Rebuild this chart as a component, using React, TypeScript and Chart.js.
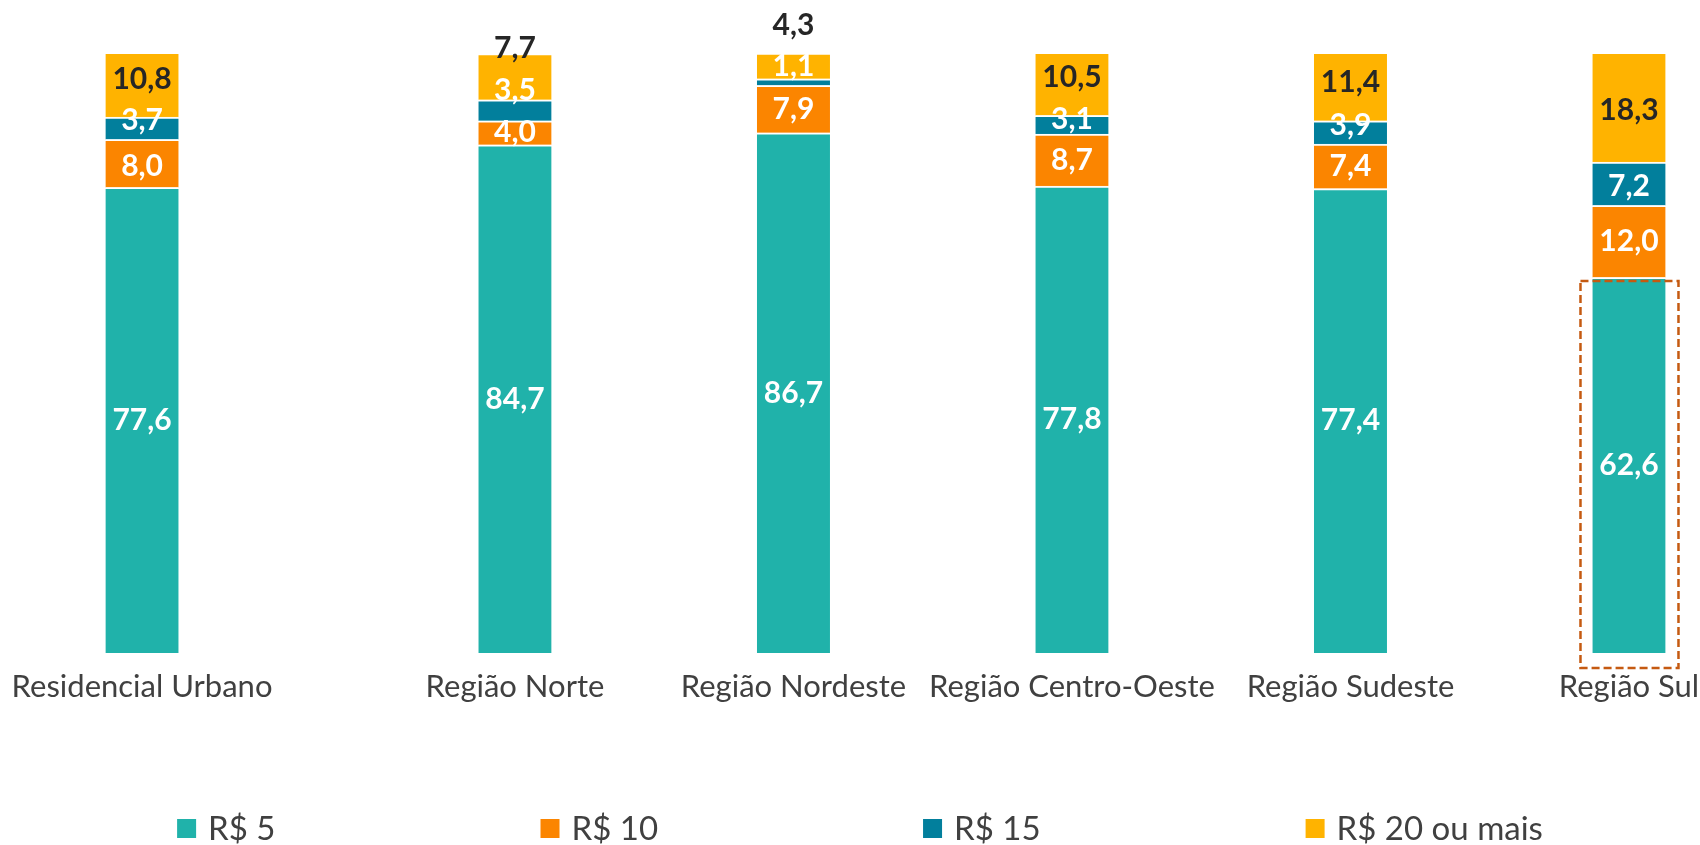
import React, { useEffect, useLayoutEffect, useRef } from 'react';
import { Chart, registerables, CategoryScale } from 'chart.js';

// ---------------- data ----------------
const categories = [
  'Residencial Urbano',
  'Região Norte',
  'Região Nordeste',
  'Região Centro-Oeste',
  'Região Sudeste',
  'Região Sul',
];
const seriesNames = ['R$ 5', 'R$ 10', 'R$ 15', 'R$ 20 ou mais'];
const valuesR5 = [77.6, 84.7, 86.7, 77.8, 77.4, 62.6];
const valuesR10 = [8.0, 4.0, 7.9, 8.7, 7.4, 12.0];
const valuesR15 = [3.7, 3.5, 1.1, 3.1, 3.9, 7.2];
const valuesR20 = [10.8, 7.7, 4.3, 10.5, 11.4, 18.3];
const highlightedCategory = 'Região Sul';

// ---------------- styles ----------------
const seriesColors = ['#20B2AA', '#FB8500', '#027F9C', '#FFB300'];
const labelColors = ['#FFFFFF', '#FFFFFF', '#FFFFFF', '#262626'];
const FONT = "Lato, 'DejaVu Sans', sans-serif";
const TEXT = '#404040';
const WIDTH = 1700;
const HEIGHT = 845;

// vertical nudges (px) for value labels that were moved in the original, keyed "dataset-index"
const labelNudges: Record<string, number> = {
  '2-0': -8, '3-0': -5,
  '2-1': -20, '3-1': -28,
  '2-2': -16, '3-2': -41,
  '2-3': -5, '3-3': -7,
  '2-4': -7, '3-4': -4,
  '2-5': 3, '3-5': 3,
  '1-0': 3,
};

// Category scale whose first gap is wider than the others (layout only)
class GapCategoryScale extends (CategoryScale as any) {
  static id = 'gapCategory';
  getPixelForValue(value: any) {
    let v = value;
    if (typeof v !== 'number') v = (this as any).parse(v);
    if (v === null || v === undefined || isNaN(v)) return NaN;
    const o: any = (this as any).options;
    const lead = o.leadPad ?? 0.5;
    const gap = o.firstGap ?? 1;
    const trail = o.trailPad ?? 0.5;
    const n = (this as any).getLabels().length;
    const pos = lead + (v >= 1 ? gap + (v - 1) : v * gap);
    const total = lead + gap + Math.max(n - 2, 0) + trail;
    return (this as any).getPixelForDecimal(pos / total);
  }
}

Chart.register(...registerables, GapCategoryScale as any);

const fmt = (v: number) => v.toFixed(1).replace('.', ',');

const valueLabels = {
  id: 'valueLabels',
  afterDatasetsDraw(chart: any) {
    const ctx = chart.ctx;
    ctx.save();
    ctx.font = `bold 30px ${FONT}`;
    ctx.textAlign = 'center';
    ctx.textBaseline = 'middle';
    chart.data.datasets.forEach((ds: any, di: number) => {
      const meta = chart.getDatasetMeta(di);
      meta.data.forEach((el: any, i: number) => {
        const p = el.getProps(['x', 'y', 'base'], true);
        const y = (p.y + p.base) / 2 + (labelNudges[`${di}-${i}`] || 0);
        ctx.fillStyle = labelColors[di];
        ctx.fillText(fmt(ds.data[i]), p.x, y);
      });
    });
    ctx.restore();
  },
};

const highlightBox = {
  id: 'highlightBox',
  afterDatasetsDraw(chart: any) {
    const idx = categories.indexOf(highlightedCategory);
    const el: any = chart.getDatasetMeta(0).data[idx];
    if (!el) return;
    const p = el.getProps(['x', 'y', 'base', 'width'], true);
    const ctx = chart.ctx;
    ctx.save();
    ctx.strokeStyle = '#C55A11';
    ctx.lineWidth = 2.5;
    ctx.setLineDash([8, 4]);
    const left = p.x - p.width / 2 - 12;
    const right = p.x + p.width / 2 + 13;
    const top = p.y + 3.5;
    const bottom = p.base + 15;
    ctx.strokeRect(left, top, right - left, bottom - top);
    ctx.restore();
  },
};

const bottomLegend = {
  id: 'bottomLegend',
  afterDraw(chart: any) {
    const ctx = chart.ctx;
    const fontSize = 33;
    const box = 19;
    const boxGap = 12;
    const itemGap = 265;
    ctx.save();
    ctx.font = `${fontSize}px ${FONT}`;
    ctx.textBaseline = 'middle';
    ctx.textAlign = 'left';
    const items = chart.data.datasets.map((ds: any) => {
      const tw = ctx.measureText(ds.label).width;
      return { text: ds.label, color: ds.backgroundColor, w: box + boxGap + tw };
    });
    const total = items.reduce((s: number, it: any) => s + it.w, 0) + itemGap * (items.length - 1);
    let x = chart.width / 2 - total / 2 + 10;
    const cy = chart.height - 16.5;
    items.forEach((it: any) => {
      ctx.fillStyle = it.color;
      ctx.fillRect(x, cy - box / 2, box, box);
      ctx.fillStyle = TEXT;
      ctx.fillText(it.text, x + box + boxGap, cy + 1);
      x += it.w + itemGap;
    });
    ctx.restore();
  },
};

export default function App() {
  const ref = useRef<HTMLCanvasElement | null>(null);

  useLayoutEffect(() => {
    const prev = document.body.style.margin;
    document.body.style.margin = '0';
    return () => {
      document.body.style.margin = prev;
    };
  }, []);

  useEffect(() => {
    if (!ref.current) return;
    const series = [valuesR5, valuesR10, valuesR15, valuesR20];
    const chart = new Chart(ref.current, {
      type: 'bar',
      data: {
        labels: categories,
        datasets: series.map((vals, i) => ({
          label: seriesNames[i],
          data: vals,
          backgroundColor: seriesColors[i],
          borderColor: 'rgba(255,255,255,0.65)',
          borderWidth: { top: 2, left: 0, right: 0, bottom: 0 },
          borderSkipped: false,
          barThickness: 73,
        })),
      },
      options: {
        responsive: false,
        animation: false,
        layout: { padding: { top: 53, bottom: 132, left: 0, right: 0 } },
        plugins: {
          legend: { display: false },
          tooltip: { enabled: false },
        },
        scales: {
          x: {
            type: 'gapCategory' as any,
            stacked: true,
            leadPad: 0.51,
            firstGap: 1.339,
            trailPad: 0.255,
            grid: { display: false, drawTicks: false, tickLength: 0 },
            border: { display: false },
            ticks: {
              autoSkip: false,
              maxRotation: 0,
              minRotation: 0,
              padding: 15,
              color: TEXT,
              font: { family: FONT, size: 31 },
            },
            afterFit: (scale: any) => {
              scale.height = 60;
              scale.paddingLeft = 0;
              scale.paddingRight = 0;
            },
          } as any,
          y: {
            display: false,
            stacked: true,
            min: 0,
            max: 100,
          },
        },
      },
      plugins: [valueLabels, highlightBox, bottomLegend],
    });
    return () => chart.destroy();
  }, []);

  return (
    <div style={{ width: WIDTH, height: HEIGHT, overflow: 'hidden' }}>
      <canvas ref={ref} width={WIDTH} height={HEIGHT} style={{ display: 'block' }} />
    </div>
  );
}
